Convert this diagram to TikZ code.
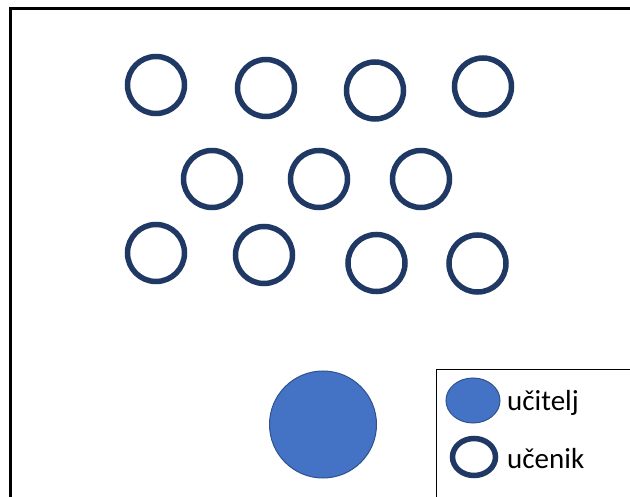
\documentclass[tikz,border=0pt]{standalone}
\usepackage{fontspec}
\setmainfont{Carlito}
\usepackage{tikz}

\definecolor{ringblue}{HTML}{1F3864}
\definecolor{teachfill}{HTML}{4472C4}
\definecolor{teachedge}{HTML}{2F528F}

\begin{document}
\begin{tikzpicture}[x=1pt,y=-1pt,
    student/.style={draw=ringblue, line width=5.5pt},
    teacher/.style={draw=teachedge, line width=1pt, fill=teachfill},
    legendtext/.style={anchor=base west, inner sep=0pt, font=\fontsize{29}{34}\selectfont}]
        \useasboundingbox (0,0) rectangle (630,497);
        \draw [line width=3pt] (640,8.5) -- (10,8.5) -- (10,510); % Outer frame.
        % First row.
        \draw [student] (156,85) circle (28.5);
        \draw [student] (266,88) circle (28.5);
        \draw [student] (375,90.5) circle (28.5);
        \draw [student] (483,86.5) circle (28.5);
        % Second row.
        \draw [student] (212,179) circle (28.5);
        \draw [student] (319,179) circle (28.5);
        \draw [student] (421,179) circle (28.5);
        % Third row.
        \draw [student] (156,253) circle (28.5);
        \draw [student] (264,255) circle (28.5);
        \draw [student] (376.5,263) circle (28.5);
        \draw [student] (477.5,263.5) circle (28.5);
        % Teacher.
        \draw [teacher] (323,424.5) circle (53.5);
        % Legend.
        \draw [line width=1.8pt] (640,369.5) -- (436.5,369.5) -- (436.5,510);
        \draw [teacher] (473,400.5) ellipse (27 and 22.5);
        \draw [student] (474,457) ellipse (21.5 and 18.5);
        \node [legendtext] (ucitelj) at (507,410) {učitelj};
        \node [legendtext] (ucenik) at (507,468) {učenik};
      \end{tikzpicture}
\end{document}
